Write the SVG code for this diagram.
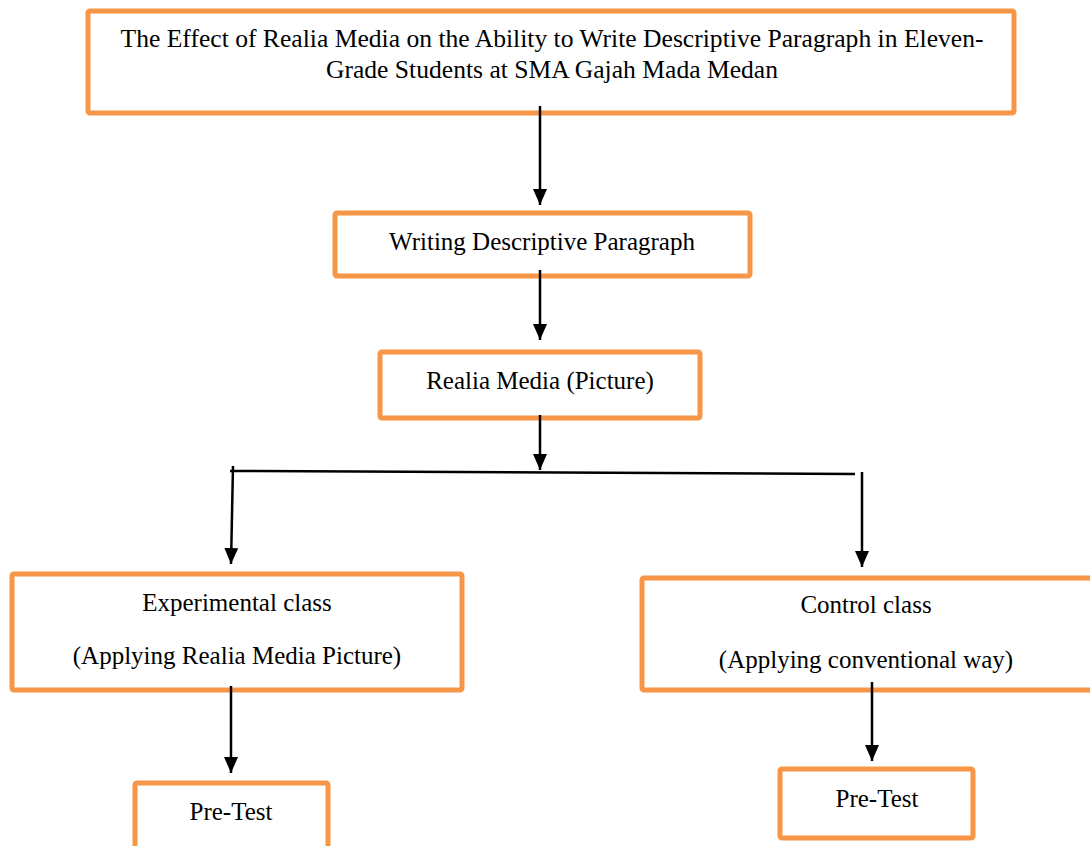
<svg xmlns="http://www.w3.org/2000/svg" width="1090" height="846" viewBox="0 0 1090 846">
<style>
.box{fill:#fff;stroke:#F79646;stroke-width:5;}
.t{font-family:"Liberation Serif","Times New Roman",serif;font-size:25px;fill:#000;text-anchor:middle;}
.tt{font-size:25.6px;}
.c{stroke:#000;stroke-width:2.5;fill:none;}
</style>
<defs>
<marker id="ah" viewBox="0 0 16 14" refX="16" refY="7" markerWidth="16" markerHeight="14" markerUnits="userSpaceOnUse" orient="auto">
<path d="M0,0 L16,7 L0,14 z" fill="#000"/>
</marker>
</defs>
<rect width="1090" height="846" fill="#fff"/>
<g id="n-title">
<rect class="box" x="88" y="11" width="926" height="102" rx="2"/>
<text class="t tt" x="552" y="47">The Effect of Realia Media on the Ability to Write Descriptive Paragraph in Eleven-</text>
<text class="t tt" x="552" y="78">Grade Students at SMA Gajah Mada Medan</text>
</g>
<g id="n-writing">
<rect class="box" x="335" y="213" width="415" height="63" rx="2"/>
<text class="t" x="542" y="250">Writing Descriptive Paragraph</text>
</g>
<g id="n-realia">
<rect class="box" x="380" y="352" width="320" height="66" rx="2"/>
<text class="t" x="540" y="389">Realia Media (Picture)</text>
</g>
<g id="n-exp">
<rect class="box" x="12" y="574" width="450" height="116" rx="2"/>
<text class="t" x="237" y="611">Experimental class</text>
<text class="t" x="237" y="664">(Applying Realia Media Picture)</text>
</g>
<g id="n-ctrl">
<rect class="box" x="642" y="578" width="452" height="112" rx="2"/>
<text class="t" x="866" y="613">Control class</text>
<text class="t" x="866" y="668">(Applying conventional way)</text>
</g>
<g id="n-pre1">
<rect class="box" x="135" y="783" width="193" height="80" rx="2"/>
<text class="t" x="231" y="820">Pre-Test</text>
</g>
<g id="n-pre2">
<rect class="box" x="780" y="769" width="193" height="69" rx="2"/>
<text class="t" x="877" y="807">Pre-Test</text>
</g>
<g id="connectors">
<line class="c" x1="540" y1="106" x2="540" y2="205" marker-end="url(#ah)"/>
<line class="c" x1="540" y1="270" x2="540" y2="340" marker-end="url(#ah)"/>
<line class="c" x1="540" y1="415" x2="540" y2="470" marker-end="url(#ah)"/>
<line class="c" x1="230" y1="471" x2="855" y2="474"/>
<line class="c" x1="233" y1="466" x2="231" y2="564" marker-end="url(#ah)"/>
<line class="c" x1="862" y1="472" x2="862" y2="567" marker-end="url(#ah)"/>
<line class="c" x1="231" y1="686" x2="231" y2="773" marker-end="url(#ah)"/>
<line class="c" x1="872" y1="682" x2="872" y2="761" marker-end="url(#ah)"/>
</g>
</svg>
